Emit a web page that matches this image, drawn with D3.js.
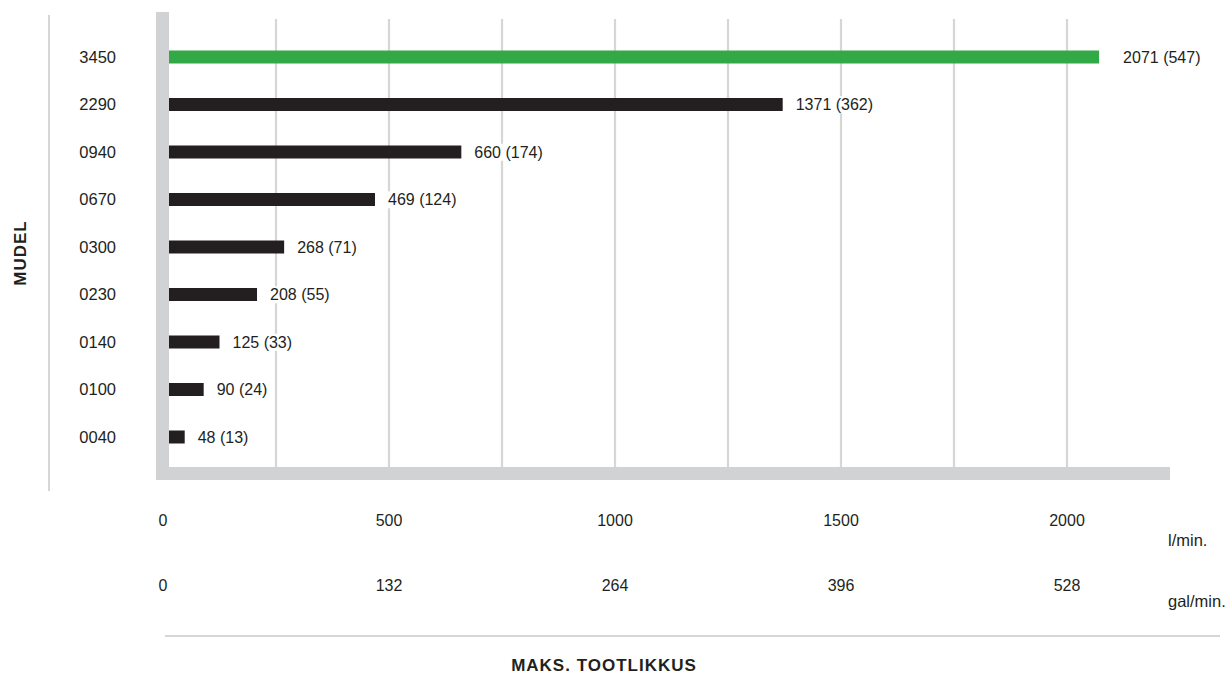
<!DOCTYPE html>
<html>
<head>
<meta charset="utf-8">
<script src="https://cdn.jsdelivr.net/npm/d3@7"></script>
<style>
  html, body { margin: 0; padding: 0; background: #fff; }
  svg text { font-family: "Liberation Sans", Arial, sans-serif; fill: #231f20; }
</style>
</head>
<body>
<div id="vis"></div>
<script>
/* Data */
const models   = ["3450", "2290", "0940", "0670", "0300", "0230", "0140", "0100", "0040"];
const litres   = [2071, 1371, 660, 469, 268, 208, 125, 90, 48];
const gallons  = [547, 362, 174, 124, 71, 55, 33, 24, 13];
const litreTicks  = [0, 500, 1000, 1500, 2000];
const gallonTicks = [0, 132, 264, 396, 528];
const gridTicks   = [250, 500, 750, 1000, 1250, 1500, 1750, 2000];
const highlight   = "3450";

const W = 1231, H = 675;
const green = "#33a846", dark = "#231f20", axisGrey = "#d1d2d4", gridGrey = "#d6d6d6";

const svg = d3.select("#vis").append("svg")
    .attr("width", W).attr("height", H);

/* Scales */
const x  = d3.scaleLinear().domain([0, 2000]).range([163, 1067]);
const xg = d3.scaleLinear().domain([0, 528]).range([163, 1067]);
const y  = d3.scalePoint().domain(models).range([57, 437]);
const barH = 13;

const rows = models.map((m, i) => ({ model: m, l: litres[i], g: gallons[i] }));

/* grid */
svg.append("g").selectAll("line").data(gridTicks).join("line")
    .attr("x1", d => x(d)).attr("x2", d => x(d))
    .attr("y1", 19).attr("y2", 470)
    .attr("stroke", gridGrey).attr("stroke-width", 2.2);

/* bars */
svg.append("g").selectAll("rect").data(rows).join("rect")
    .attr("x", x(0)).attr("y", d => y(d.model) - barH / 2)
    .attr("width", d => x(d.l) - x(0)).attr("height", barH)
    .attr("fill", d => d.model === highlight ? green : dark);

/* value labels (white box behind cuts the grid) */
const vl = svg.append("g").selectAll("g").data(rows).join("g")
    .attr("transform", d => `translate(${x(d.l) + (d.model === highlight ? 24 : 13)},${y(d.model)})`);
vl.append("text")
    .attr("dy", "0.36em")
    .style("font-size", "16px")
    .text(d => `${d.l} (${d.g})`);
vl.each(function() {
  const g = d3.select(this);
  const bb = g.select("text").node().getBBox();
  g.insert("rect", "text")
    .attr("x", bb.x - 2).attr("y", bb.y)
    .attr("width", bb.width + 4).attr("height", bb.height)
    .attr("fill", "#fff");
});

/* thick axis frame */
svg.append("rect").attr("x", 156).attr("y", 12).attr("width", 13).attr("height", 468).attr("fill", axisGrey);
svg.append("rect").attr("x", 156).attr("y", 467).attr("width", 1014).attr("height", 13).attr("fill", axisGrey);

/* category labels */
svg.append("g").selectAll("text").data(models).join("text")
    .attr("x", 116).attr("y", d => y(d)).attr("dy", "0.36em")
    .attr("text-anchor", "end")
    .style("font-size", "16.5px")
    .text(d => d);

/* thin left line and bottom line */
svg.append("line").attr("x1", 49).attr("x2", 49).attr("y1", 15).attr("y2", 491)
    .attr("stroke", gridGrey).attr("stroke-width", 2);
svg.append("line").attr("x1", 165).attr("x2", 1220).attr("y1", 636).attr("y2", 636)
    .attr("stroke", gridGrey).attr("stroke-width", 2);

/* bottom tick rows */
svg.append("g").selectAll("text").data(litreTicks).join("text")
    .attr("x", d => x(d)).attr("y", 520).attr("dy", "0.36em")
    .attr("text-anchor", "middle").style("font-size", "16px")
    .text(d => d);
svg.append("g").selectAll("text").data(gallonTicks).join("text")
    .attr("x", d => xg(d)).attr("y", 585).attr("dy", "0.36em")
    .attr("text-anchor", "middle").style("font-size", "16px")
    .text(d => d);

svg.append("text").attr("x", 1168).attr("y", 540).attr("dy", "0.36em")
    .style("font-size", "16.5px").text("l/min.");
svg.append("text").attr("x", 1168).attr("y", 601).attr("dy", "0.36em")
    .style("font-size", "16.5px").text("gal/min.");

/* axis titles */
svg.append("text")
    .attr("transform", "translate(20,253) rotate(-90)")
    .attr("text-anchor", "middle").attr("dy", "0.36em")
    .style("font-size", "17px").style("font-weight", "bold").style("letter-spacing", "1px")
    .text("MUDEL");
svg.append("text")
    .attr("x", 604).attr("y", 665).attr("dy", "0.36em")
    .attr("text-anchor", "middle")
    .style("font-size", "17px").style("font-weight", "bold").style("letter-spacing", "1px")
    .text("MAKS. TOOTLIKKUS");
</script>
</body>
</html>
